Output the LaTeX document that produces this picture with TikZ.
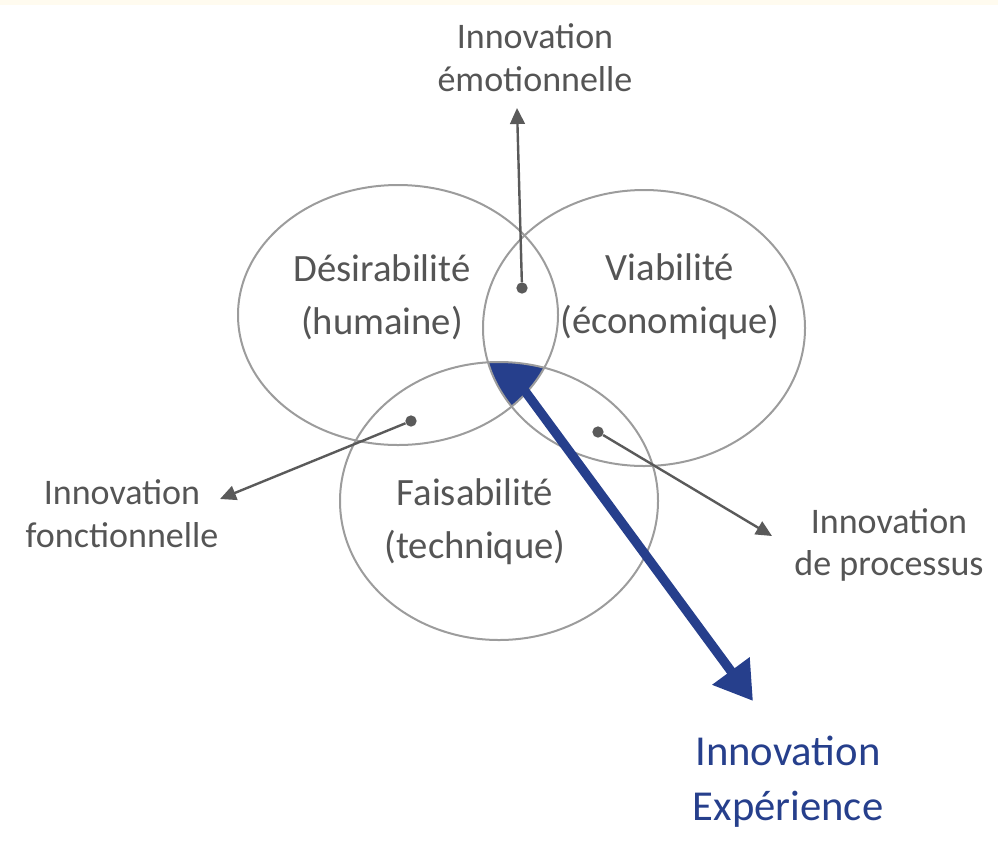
\documentclass[tikz,border=0pt]{standalone}
\usepackage{fontspec}
\setmainfont{Carlito}
\usetikzlibrary{arrows.meta}
\definecolor{ringgray}{HTML}{9C9C9C}
\definecolor{txtgray}{HTML}{555555}
\definecolor{arrgray}{HTML}{5A5A5A}
\definecolor{navy}{HTML}{263F8C}
\definecolor{topband}{HTML}{FFFBEF}
\begin{document}
\begin{tikzpicture}[x=0.75pt,y=-0.75pt,
  ring/.style={draw=ringgray, line width=1.5pt},
  lbl/.style={text=txtgray, font=\fontsize{27}{32}\selectfont, align=center, inner sep=0pt},
  inlbl/.style={text=txtgray, font=\fontsize{29}{40}\selectfont, align=center, inner sep=0pt},
  bluelbl/.style={text=navy, font=\fontsize{32}{41}\selectfont, align=center, inner sep=0pt},
  dotmark/.style={circle, fill=arrgray, inner sep=0pt, minimum size=8.5pt},
  grayarrow/.style={draw=arrgray, line width=1.8pt, -{Triangle[length=12pt,width=11pt]}},
  bluearrow/.style={draw=navy, line width=7pt, -{Triangle[length=28pt,width=33pt]}}
]
\useasboundingbox (0,0) rectangle (998,843);
\fill[topband] (0,0) rectangle (998,5);
% intersection of the three sets
\begin{scope}
  \clip (398,315) ellipse [x radius=160, y radius=130];
  \clip (644,328) ellipse [x radius=161, y radius=138];
  \fill[navy] (499,501) ellipse [x radius=159, y radius=139];
\end{scope}
% the three sets
\draw[ring] (398,315) ellipse [x radius=160, y radius=130];
\draw[ring] (644,328) ellipse [x radius=161, y radius=138];
\draw[ring] (499,501) ellipse [x radius=159, y radius=139];
% set labels
\node[inlbl] (des) at (382,297) {Désirabilité\\(humaine)};
\node[inlbl] (via) at (670,297) {Viabilité\\(économique)};
\node[inlbl] (fai) at (475,522) {Faisabilité\\(technique)};
% dots and arrows
\node[dotmark] (demo) at (522,288) {};
\node[dotmark] (dfon) at (411,421) {};
\node[dotmark] (dpro) at (598,432) {};
\coordinate (temo) at (517,108);
\coordinate (tfon) at (220,499);
\coordinate (tpro) at (772,536);
\draw[grayarrow] (demo) -- (temo);
\draw[grayarrow] (dfon) -- (tfon);
\draw[grayarrow] (dpro) -- (tpro);
\coordinate (bstart) at (508,368);
\coordinate (btip) at (753,701);
\draw[bluearrow] (bstart) -- (btip);
% outer labels
\node[lbl] (emo) at (535,58) {Innovation\\émotionnelle};
\node[lbl] (fon) at (122,514) {Innovation\\fonctionnelle};
\node[lbl] (pro) at (889,545) {Innovation\\de processus};
\node[bluelbl] (exp) at (788,782) {Innovation\\Expérience};
\end{tikzpicture}
\end{document}
